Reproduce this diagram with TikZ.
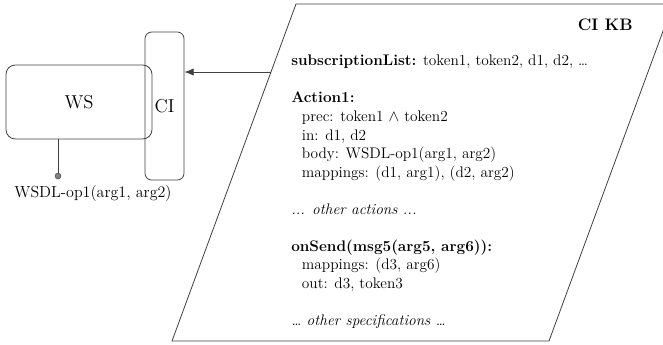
\documentclass[tikz,border=0pt]{standalone}
\usetikzlibrary{arrows.meta}

\begin{document}
\begin{tikzpicture}[x=0.75pt, y=-0.75pt,
  line/.style={draw=black!75, line width=0.6pt},
  box/.style={line, rounded corners=5pt, inner sep=0pt, font=\fontsize{14}{17}\selectfont},
  kbtext/.style={font=\fontsize{11.5}{13.9}\selectfont, align=left, inner sep=0pt}]

\useasboundingbox (0,0) rectangle (663,344);
\clip (0,0) rectangle (663,344);

% knowledge base (cut off at the right border)
\coordinate (kbnw) at (296,4);
\coordinate (kbne) at (673,4);
\coordinate (kbse) at (549,341);
\coordinate (kbsw) at (172,341);
\draw[line] (kbnw) -- (kbne) -- (kbse) -- (kbsw) -- cycle;

\node[font=\bfseries\fontsize{12.5}{15}\selectfont, anchor=base east, inner sep=0pt] (kbtitle) at (633,30) {CI KB};
\node[kbtext, anchor=north west] (kbspec) at (291,55) {%
\textbf{subscriptionList:} token1, token2, d1, d2, \dots\\[13.9pt]
\textbf{Action1:}\\
\hspace*{8pt}prec: token1 $\wedge$ token2\\
\hspace*{8pt}in: d1, d2\\
\hspace*{8pt}body: WSDL-op1(arg1, arg2)\\
\hspace*{8pt}mappings: (d1, arg1), (d2, arg2)\\[13.9pt]
\textit{... other actions ...}\\[13.9pt]
\textbf{onSend(msg5(arg5, arg6)):}\\
\hspace*{8pt}mappings: (d3, arg6)\\
\hspace*{8pt}out: d3, token3\\[13.9pt]
\textit{\dots\ other specifications \dots}};

% service and its interface
\node[box, minimum width=29.25pt, minimum height=111pt] (ci) at (164.5,106) {CI};
\node[box, rounded corners=7pt, minimum width=109.5pt, minimum height=55.5pt] (ws) at (79,102) {WS};

\coordinate (kbin) at (271,72);
\draw[line, -{Latex[length=7pt,width=5.5pt]}] (kbin) -- (kbin -| ci.east);

% exposed operation
\coordinate (op) at (58,176);
\draw[line] (op |- ws.south) -- (op);
\fill[black!50, draw=black!70, line width=0.4pt] (op) circle (2.2pt);
\node[font=\fontsize{12}{14}\selectfont, anchor=base, inner sep=0pt] (opname) at (93,197) {WSDL-op1(arg1, arg2)};

\end{tikzpicture}
\end{document}
